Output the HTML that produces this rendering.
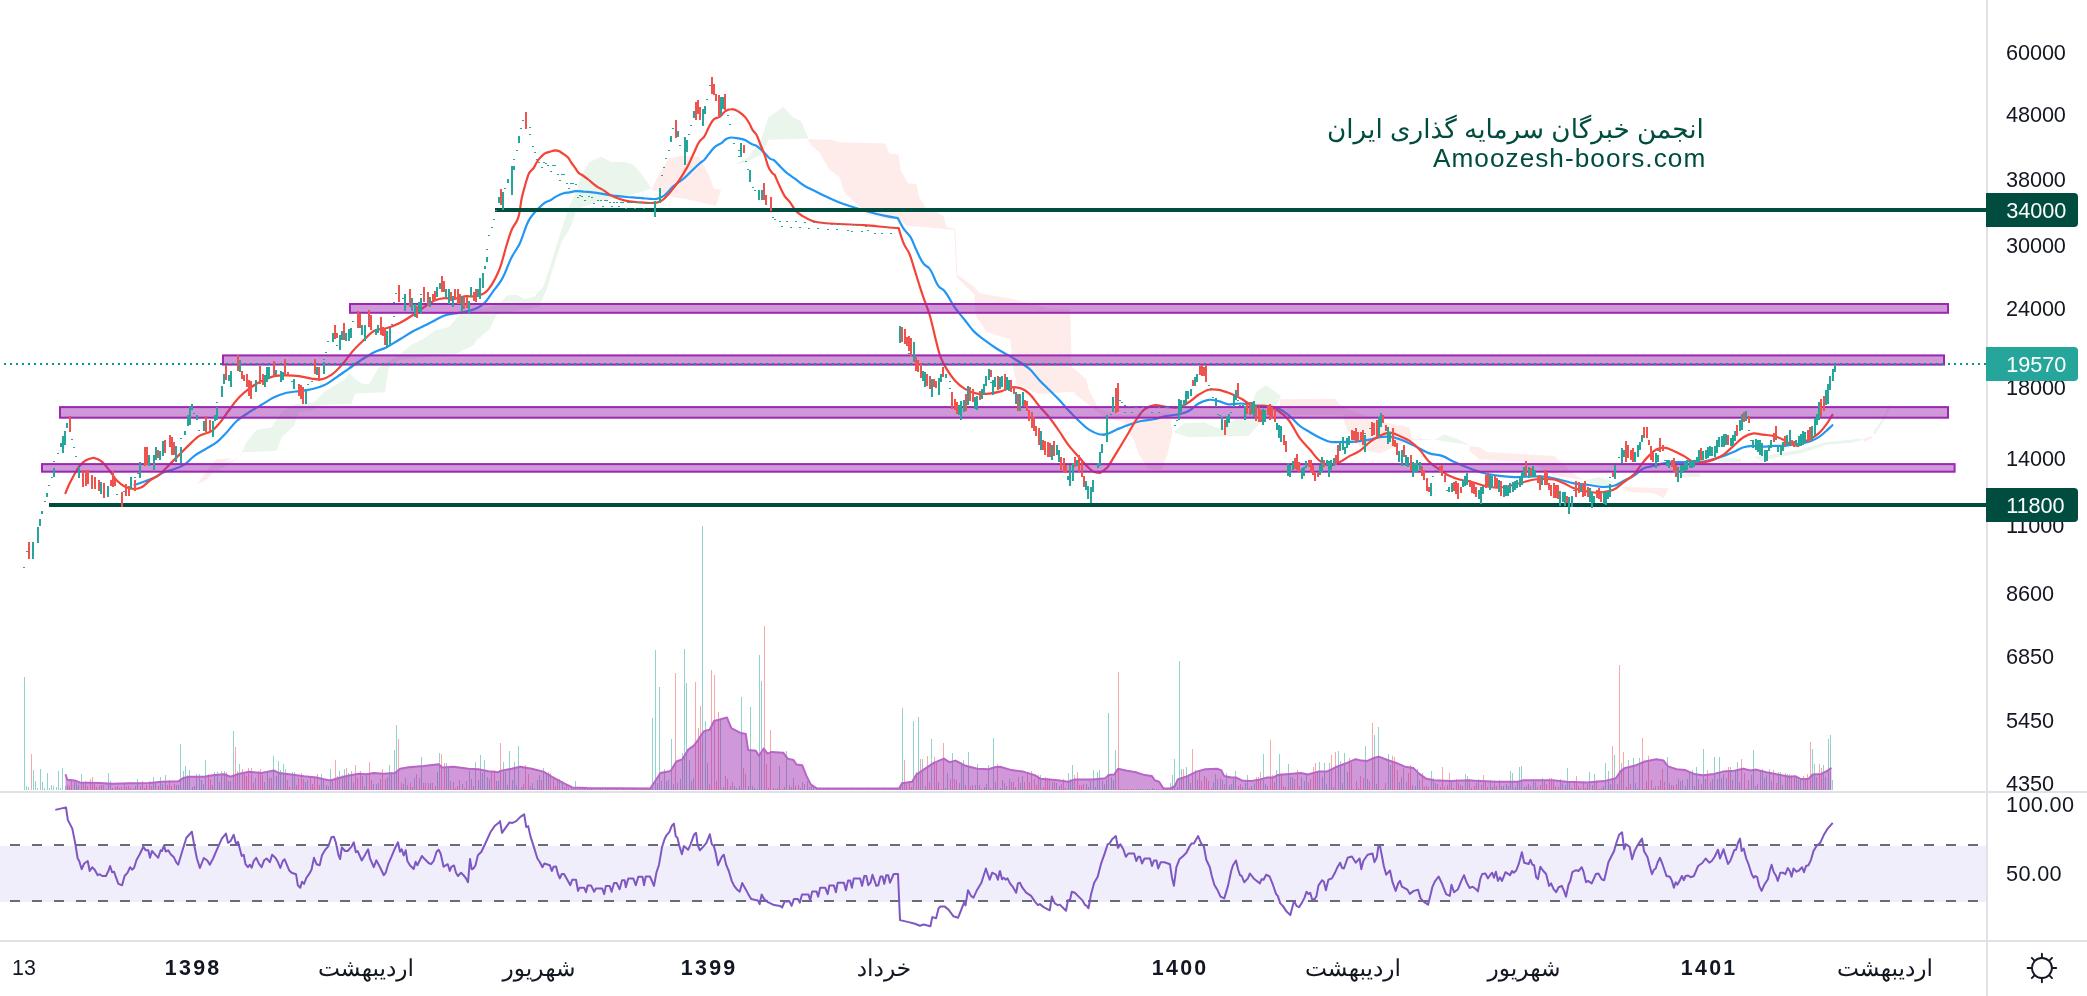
<!DOCTYPE html>
<html><head><meta charset="utf-8"><title>Chart</title>
<style>
html,body{margin:0;padding:0;background:#fff}
body{width:2087px;height:996px;position:relative;overflow:hidden;font-family:"Liberation Sans",sans-serif;color:#131722}
.ax,.tag,.tl,.wm{will-change:transform}
.ax{position:absolute;left:2006px;height:28px;line-height:28px;font-size:21.7px;margin-top:0.7px;white-space:nowrap;letter-spacing:-0.1px}
.tag{position:absolute;left:1986px;width:92px;height:34px;line-height:35.4px;border-radius:0 4px 4px 0;color:#fff;font-size:21.7px;box-sizing:border-box;padding-left:20.3px;letter-spacing:-0.1px}
.tl{position:absolute;top:954px;width:200px;height:28px;line-height:28px;text-align:center;font-size:21.4px;white-space:nowrap}
.tl.b{font-weight:bold;letter-spacing:2.3px;text-indent:2.3px}
.tl.fa{font-size:23.3px;top:954.1px;text-rendering:geometricPrecision}
.wm{position:absolute;right:381.5px;color:#004d40;white-space:nowrap;text-align:right}
</style></head><body>
<svg width="2087" height="996" viewBox="0 0 2087 996" style="position:absolute;left:0;top:0">
<rect width="2087" height="996" fill="#fff"/>
<g><polygon points="196.9,484.5 211.8,464.6 216.8,459.1 231.7,458.3 219.3,465.8 206.8,479.5" fill="#feecea"/><polygon points="201.8,479.5 216.8,464.6 239.2,458.3 246.7,442.1 256.7,429.7 271.6,427.2 281.6,412.2 294,404.8 314,402.3 323.9,392.3 343.9,379.8 348.9,373.6 361.3,383.6 368.8,384.8 378.8,367.4 398.7,354.9 411.2,345 436.1,332.5 448.5,330 483.4,330 473.5,345 456,353.7 398.7,359.9 388.7,367.4 385,392.3 355.1,393.5 351.4,404.3 321.5,404.8 314,409.7 299,412.2 294,425.9 281.6,437.2 276.6,450.9 243,452.1 239.2,458.3" fill="#eaf5eb"/><polygon points="424.6,337.9 434.6,330.5 449.5,326.7 459.5,314.3 499.4,304.3 506.8,295.6 516.8,294.8 524.3,299.3 534.2,296.8 543,286.9 549.2,269.4 556.7,244.5 561.6,229.5 569.1,207.1 576.6,189.7 581.6,174.7 589.1,162.3 601.5,156.8 611.5,162.3 623.9,161.8 633.9,164.8 643.9,177.2 651.4,188.4 643.9,190.9 623.9,197.2 599,200.9 576.6,209.6 571.6,224.6 567.9,232 561.6,242 554.2,264.4 546.7,289.4 539.2,306.8 496.9,314.3 489.4,329.2 479.4,337.9" fill="#eaf5eb"/><polygon points="651.4,189.7 658.8,174.7 668.8,158.5 681.3,156 698.7,156.8 708.7,174.7 713.7,188.4 721.1,189.7 716.1,205.9 688.7,199.6 673.8,197.2 653.8,190.2" fill="#feecea"/><polygon points="733.6,164.8 748.5,157.3 761,139.8 768.5,117.4 783.4,106.9 793.4,117.4 800.9,121.1 808.3,138.6 768.5,139.8 761,154.8 746.1,162.3" fill="#eaf5eb"/><polygon points="807.5,139.2 831.9,139.7 839.4,142.2 885.5,143.5 889.2,153.4 898.7,154.7 900.4,169.6 907.9,183.3 916.6,184.6 919.1,197.1 925.3,207 936.5,212 944,217 946.5,227 955.2,229 955.2,229.9 929.1,227.5 906.6,225.7 899.2,219.5 889.2,219.5 866.8,214.5 859.3,207 844.3,192.1 839.4,177.1 829.4,169.6 819.4,152.2 811.9,146" fill="#feecea"/><polygon points="955.2,228.5 957.4,274.6 974.4,287.1 979.4,293.3 1009.3,298.3 1047.9,308.3 1070.3,309.5 1071.6,366.8 1086.5,379.3 1089,391.7 1096.5,405.5 1101.5,411.7 1074,391.7 1054.1,393 1039.2,394.2 1016.7,384.3 1013,366.8 1010.5,339.4 986.8,331.9 975.6,315.7 974.4,294.6 956.4,277.1 954.4,231" fill="#feecea"/><polygon points="1089,389.8 1099,409.8 1123.9,414.8 1168.7,412.3 1172.5,432.2 1167.5,454.6 1161.3,469.6 1148.8,469.6 1138.8,454.6 1133.8,439.7 1123.9,422.2 1103.9,417.2 1089,404.8 1074,393.6" fill="#feecea"/><polygon points="1173.7,432.2 1183.7,423.5 1203.6,422.2 1218.6,428.5 1248.5,412.3 1256,392.3 1265.9,384.9 1280.9,396.1 1278.4,402.3 1260.9,422.2 1248.5,435.9 1188.7,437.2" fill="#eaf5eb"/><polygon points="1280,399.3 1334.8,398.8 1342.3,407.3 1384.7,422.2 1409.6,427.2 1412.1,438.4 1434.5,439.7 1419.5,440.2 1409.6,440.2 1379.7,453.4 1362.2,449.6 1347.3,429.7 1342.3,414.8 1280,414.8" fill="#feecea"/><polygon points="1434.5,439.7 1444.5,434.2 1459.4,439.7 1469.4,445.2 1454.4,442.7" fill="#eaf5eb"/><polygon points="1469.4,445.9 1479.4,447.2 1486.8,452.1 1554.1,455.9 1574,474.6 1584,480 1554.1,475.8 1529.2,462.1 1479.4,459.6 1469.4,450.9" fill="#feecea"/><polygon points="1584,480.8 1599,477.1 1613.9,482 1603.9,487" fill="#eaf5eb"/><polygon points="1621.4,487 1668.7,488.3 1663.8,498.2 1653.8,493.3 1628.9,492" fill="#feecea"/><polygon points="1678.7,474.6 1698.6,472.1 1701.1,476.6 1681.2,477.6" fill="#eaf5eb"/><polygon points="1716.1,457.1 1741,459.1 1741,462.6 1718.6,462.1" fill="#eaf5eb"/><polygon points="1753.5,457.1 1778.4,453.4 1800.1,449.6 1800.1,453.4 1778.4,457.1 1760.9,460.9" fill="#eaf5eb"/><polygon points="1800,449.6 1826.2,442.2 1851.1,439.7 1861,438.4 1861,440.2 1851.1,442.7 1826.2,444.7 1800,453.4" fill="#eaf5eb"/><polygon points="1862.3,439.2 1871,435.9 1872.3,437.7 1864.8,441.7" fill="#feecea"/><polygon points="1873,432.7 1883.5,417.2 1889.7,404.3 1890.9,405.3 1884.7,419.2 1874.7,434.7" fill="#eaf5eb"/></g>
<g fill="none" stroke-width="1" shape-rendering="crispEdges">
<path d="M24.3 790V677.1M26.6 790V785.5M28.8 790V787.3M33.4 790V770.1M35.6 790V781.3M37.9 790V788M40.2 790V769.3M42.5 790V781.8M44.7 790V788M47 790V773.1M49.3 790V788M51.5 790V785M53.8 790V785.5M56.1 790V786.8M58.3 790V771.3M60.6 790V788M62.9 790V768.1M65.1 790V786.3M67.4 790V784.6M74.2 790V782.1M76.5 790V783.1M78.8 790V784.8M81 790V774.3M101.4 790V784.9M108.3 790V773.1M110.5 790V780.5M130.9 790V787.9M137.8 790V779.3M140 790V786M151.4 790V785.9M153.6 790V777.3M155.9 790V782.5M160.4 790V777.3M162.7 790V784M165 790V774.8M176.3 790V785.2M178.6 790V784.6M180.9 790V743.9M183.1 790V771.3M185.4 790V766.3M187.7 790V774.6M189.9 790V770.1M192.2 790V786.5M194.5 790V786.3M196.7 790V774.3M199 790V774.2M201.3 790V780.1M203.6 790V784.3M205.8 790V760.1M212.6 790V785.2M214.9 790V772.3M217.2 790V771.8M219.4 790V781.6M221.7 790V771.4M224 790V771.3M228.5 790V781.2M230.8 790V780.9M233 790V731.2M239.9 790V764.3M255.7 790V778.2M264.8 790V782.2M267.1 790V772.7M269.4 790V777.9M273.9 790V756.4M276.2 790V775.6M278.4 790V761.3M280.7 790V769.9M283 790V764.3M285.2 790V768.8M292 790V771.6M294.3 790V772M305.7 790V782.1M307.9 790V779.5M321.5 790V774.3M323.8 790V779.4M326.1 790V785M328.3 790V786.4M330.6 790V769.3M332.9 790V781.2M339.7 790V770.6M342 790V774.7M344.2 790V769.3M348.8 790V772.7M351 790V770.6M353.3 790V783.2M362.4 790V775.5M364.7 790V785.6M366.9 790V774.7M373.7 790V784.3M376 790V783.9M378.3 790V782.5M387.3 790V776.9M389.6 790V765.1M391.9 790V772.1M394.1 790V750.1M396.4 790V725.2M403.2 790V783.6M405.5 790V777.7M412.3 790V786.7M414.6 790V777.6M419.1 790V778.3M421.4 790V756.9M430.5 790V782.5M437.3 790V771.5M439.5 790V753.1M446.3 790V762.8M448.6 790V766.5M453.1 790V781.6M462.2 790V784.4M469 790V771.4M471.3 790V778.7M475.8 790V762.3M478.1 790V779.5M480.4 790V755.1M482.6 790V773M484.9 790V760.1M487.2 790V777.1M489.4 790V779.2M496.3 790V780.5M498.5 790V781.3M503.1 790V761.5M505.3 790V771.6M507.6 790V784.6M509.9 790V750.5M512.1 790V779.6M514.4 790V762.3M516.7 790V785.4M518.9 790V746.4M521.2 790V787.1M530.3 790V785.9M532.6 790V782.8M534.8 790V788.4M537.1 790V779.5M539.4 790V775.1M543.9 790V768.3M546.2 790V773.1M548.4 790V771.6M557.5 790V780.3M562.1 790V780.9M564.3 790V786.5M568.9 790V788M573.4 790V788.5M575.7 790V781.1M577.9 790V788.7M582.5 790V789M584.7 790V788.5M587 790V788.6M596.1 790V788.6M598.4 790V789.1M602.9 790V788.7M605.2 790V789.2M607.4 790V788.8M616.5 790V788.6M618.8 790V789M621 790V788.5M623.3 790V789M630.1 790V789M632.4 790V789.1M636.9 790V788.4M646 790V788.9M652.8 790V718.1M655.1 790V650.1M657.4 790V783.4M659.6 790V687.1M661.9 790V780.7M664.2 790V768.8M666.4 790V780.5M668.7 790V780.1M671 790V739.2M673.2 790V783.8M677.8 790V783.3M680 790V778.8M682.3 790V753.1M684.6 790V649.3M686.8 790V683.4M689.1 790V760.3M691.4 790V781.4M693.7 790V777.6M702.7 790V525.8M705 790V721M707.3 790V762.6M720.9 790V717.5M723.2 790V787.4M730 790V785.5M734.5 790V786.2M736.8 790V787.7M739 790V785.7M741.3 790V697.3M748.1 790V786M750.4 790V707.4M752.6 790V786.1M754.9 790V788.1M757.2 790V788.5M759.5 790V655M761.7 790V681.1M775.3 790V788.5M777.6 790V788.3M779.9 790V765.5M784.4 790V787M786.7 790V750.6M791.2 790V787.2M793.5 790V778.2M800.3 790V788.1M802.6 790V781.6M807.1 790V781.4M809.4 790V786.6M811.6 790V784.5M813.9 790V785.9M816.2 790V788.7M820.7 790V788.6M823 790V789M825.3 790V789M827.5 790V789M834.3 790V788.7M836.6 790V788.8M838.9 790V788.4M841.1 790V788.5M843.4 790V789M845.7 790V788.9M852.5 790V788.6M863.8 790V788.8M870.6 790V788.4M872.9 790V788.8M893.3 790V789.2M895.6 790V788.8M897.9 790V789M900.1 790V785.8M902.4 790V708.3M913.7 790V721.3M918.3 790V717.2M922.8 790V759.2M925.1 790V785.7M931.9 790V739.2M938.7 790V782.4M941 790V788.5M945.5 790V788.3M947.8 790V773.1M952.3 790V753.1M959.1 790V782.5M961.4 790V765M963.7 790V759.8M968.2 790V752.2M975 790V784.7M977.3 790V764.4M981.8 790V788.5M984.1 790V787.3M986.4 790V784.4M988.6 790V765.1M993.2 790V738.3M995.4 790V782.4M1000 790V787.8M1002.2 790V779.7M1006.8 790V785.5M1009 790V778.8M1015.9 790V786.7M1020.4 790V783.3M1022.7 790V775.9M1040.8 790V774.5M1052.2 790V782.2M1056.7 790V783.4M1059 790V785.8M1068 790V773.3M1070.3 790V779.2M1072.6 790V765.2M1086.2 790V783.7M1088.5 790V787M1090.7 790V780.9M1093 790V770.4M1095.3 790V787M1097.5 790V772.2M1099.8 790V770.1M1102.1 790V781.3M1104.3 790V784.3M1106.6 790V780.1M1108.9 790V713.2M1111.2 790V776.6M1113.4 790V780.3M1115.7 790V750.2M1129.3 790V788.9M1136.1 790V788.8M1138.4 790V789.2M1142.9 790V788.6M1147.5 790V788.7M1149.7 790V789.2M1152 790V788.4M1156.5 790V789M1158.8 790V788.7M1170.1 790V783.2M1172.4 790V775.1M1174.7 790V759.4M1177 790V787.1M1179.2 790V661.1M1181.5 790V769.3M1186 790V767.3M1188.3 790V774.3M1190.6 790V783.4M1195.1 790V770.4M1197.4 790V779.6M1213.3 790V781.5M1215.5 790V773.8M1217.8 790V779.1M1220.1 790V777.5M1222.3 790V780.2M1226.9 790V773.3M1229.1 790V784.8M1231.4 790V784.3M1233.7 790V778.6M1235.9 790V771.3M1242.8 790V787.3M1245 790V783.2M1247.3 790V775.1M1251.8 790V785.9M1254.1 790V783.4M1263.2 790V754.2M1265.4 790V783.5M1276.8 790V770.4M1279.1 790V754.2M1288.1 790V764.4M1290.4 790V776.6M1292.7 790V776.6M1301.7 790V776.5M1304 790V780.8M1306.3 790V774.4M1319.9 790V762.3M1322.2 790V776.9M1324.4 790V763.2M1326.7 790V783.8M1329 790V763.2M1333.5 790V786.8M1338.1 790V751.3M1340.3 790V761.2M1342.6 790V783.4M1344.9 790V753.4M1347.1 790V772.2M1365.3 790V746.4M1367.5 790V778.8M1374.4 790V735.4M1378.9 790V727.3M1381.2 790V788.5M1388 790V754.2M1390.2 790V765.2M1399.3 790V782.3M1401.6 790V776.7M1406.1 790V781.8M1412.9 790V784.7M1415.2 790V785.5M1417.5 790V768.5M1419.7 790V779.7M1431.1 790V771.3M1433.3 790V778.2M1435.6 790V782.9M1451.5 790V781.3M1462.8 790V785.7M1465.1 790V774.2M1467.4 790V776.2M1478.7 790V779.4M1481 790V785.2M1490.1 790V779.8M1492.3 790V787.1M1499.2 790V780.1M1503.7 790V786.1M1506 790V784.3M1508.2 790V785.5M1510.5 790V771.3M1512.8 790V773.3M1515 790V787M1517.3 790V781.8M1519.6 790V767.3M1521.8 790V766.4M1524.1 790V787M1528.6 790V784.1M1533.2 790V780.6M1535.5 790V781.8M1542.3 790V778.3M1560.4 790V779.3M1562.7 790V783.1M1565 790V785M1567.2 790V768.1M1569.5 790V783.3M1571.8 790V787.7M1580.8 790V788M1589.9 790V772.2M1592.2 790V784.6M1594.4 790V774.2M1603.5 790V786.2M1605.8 790V763.2M1608.1 790V771.3M1610.3 790V784M1614.9 790V755.4M1617.1 790V783.6M1621.7 790V763.2M1628.5 790V760.3M1633 790V758.3M1635.3 790V783.1M1637.6 790V787.8M1639.8 790V758.4M1655.7 790V786.2M1658 790V785.5M1667.1 790V757.4M1669.3 790V782.5M1678.4 790V779.3M1680.7 790V781M1682.9 790V780.2M1685.2 790V785.7M1687.5 790V779.3M1689.7 790V770.8M1692 790V769.7M1694.3 790V785.8M1696.6 790V767.3M1698.8 790V778.5M1703.4 790V749.3M1705.6 790V779.2M1710.2 790V782.2M1712.4 790V779.4M1714.7 790V757.4M1717 790V779.1M1719.2 790V757.4M1721.5 790V778.1M1723.8 790V773.7M1726 790V778.3M1730.6 790V767.3M1732.9 790V779.5M1735.1 790V771.4M1737.4 790V762.3M1739.7 790V782.2M1746.5 790V788.5M1751 790V775.4M1753.3 790V750.2M1755.5 790V786.3M1757.8 790V784.2M1760.1 790V769.9M1762.4 790V768.8M1764.6 790V777.7M1766.9 790V774.9M1769.2 790V769.3M1771.4 790V781.1M1778.2 790V771.5M1780.5 790V772M1782.8 790V784.7M1787.3 790V773.6M1789.6 790V774.1M1796.4 790V776M1798.7 790V780M1800.9 790V780.2M1805.5 790V780.4M1812.3 790V748.5M1814.5 790V764.4M1816.8 790V776.6M1823.6 790V765.2M1825.9 790V776.6M1828.2 790V739.2M1830.4 790V735.4M1832.7 790V780.3" stroke="#92d2cc"/>
<path d="M31.1 790V754.4M69.7 790V786M71.9 790V780.6M83.3 790V781.9M85.6 790V781.2M87.8 790V786.4M90.1 790V779.3M92.4 790V777.3M94.6 790V783.7M96.9 790V786.7M99.2 790V786.4M103.7 790V785.4M106 790V788.5M112.8 790V788.3M115.1 790V786.6M117.3 790V785.8M119.6 790V787.9M121.9 790V787.2M124.1 790V784M126.4 790V786.9M128.7 790V785.5M133.2 790V788.5M135.5 790V785.5M142.3 790V780.5M144.6 790V787.5M146.8 790V784.5M149.1 790V780.5M158.2 790V785.9M167.2 790V785.4M169.5 790V780.1M171.8 790V785.8M174.1 790V783.7M208.1 790V774.3M210.4 790V778.5M226.2 790V772.3M235.3 790V746.9M237.6 790V771.2M242.1 790V769.3M244.4 790V773.7M246.7 790V776.3M248.9 790V768.2M251.2 790V768.4M253.5 790V783.3M258 790V770.8M260.3 790V769.3M262.5 790V774.5M271.6 790V777.7M287.5 790V779.8M289.8 790V786.6M296.6 790V784.5M298.8 790V777.6M301.1 790V773.1M303.4 790V779.4M310.2 790V777.2M312.5 790V783.7M314.7 790V777.6M317 790V774.3M319.3 790V785.1M335.2 790V760.1M337.4 790V775.5M346.5 790V768.1M355.6 790V765.1M357.8 790V778.4M360.1 790V770.7M369.2 790V762.3M371.5 790V779.7M380.5 790V778.5M382.8 790V769.3M385.1 790V779M398.7 790V738.9M401 790V783.1M407.8 790V785.3M410 790V783.4M416.8 790V773.9M423.6 790V783M425.9 790V782.8M428.2 790V783.2M432.7 790V783.4M435 790V785.8M441.8 790V754.4M444.1 790V763M450.9 790V780.6M455.4 790V788.1M457.7 790V786.1M459.9 790V780.1M464.5 790V787.9M466.8 790V780.6M473.6 790V786.3M491.7 790V771.4M494 790V769.6M500.8 790V743.3M523.5 790V783.5M525.7 790V765.2M528 790V774.2M541.6 790V780.1M550.7 790V773.2M553 790V776.6M555.2 790V786.2M559.8 790V779.3M566.6 790V785M571.1 790V786.3M580.2 790V788.6M589.3 790V789M591.5 790V788.8M593.8 790V789.1M600.6 790V788.9M609.7 790V788.6M612 790V789M614.2 790V788.8M625.6 790V788.5M627.9 790V788.4M634.7 790V789.1M639.2 790V788.7M641.5 790V788.5M643.7 790V789M648.3 790V789.2M650.5 790V788.7M675.5 790V673.3M695.9 790V681.9M698.2 790V728.2M700.5 790V705.9M709.5 790V784.4M711.8 790V670.4M714.1 790V675.3M716.3 790V781.2M718.6 790V712.3M725.4 790V775.7M727.7 790V778.7M732.2 790V781.7M743.6 790V767.9M745.8 790V774.4M764 790V626.1M766.3 790V763.9M768.5 790V787.5M770.8 790V730.2M773.1 790V787.5M782.1 790V788.5M789 790V785.2M795.8 790V785.5M798 790V784.7M804.8 790V784.2M818.5 790V789.2M829.8 790V789M832.1 790V789.1M847.9 790V789.1M850.2 790V788.5M854.8 790V788.5M857 790V789M859.3 790V789.2M861.6 790V788.5M866.1 790V789.2M868.4 790V789.1M875.2 790V788.9M877.4 790V788.5M879.7 790V789.1M882 790V789M884.3 790V789M886.5 790V788.6M888.8 790V789.2M891.1 790V789M904.7 790V760M906.9 790V784.1M909.2 790V782.9M911.5 790V786.8M916 790V772.2M920.6 790V759.2M927.4 790V756.3M929.6 790V782.1M934.2 790V757.3M936.4 790V763.1M943.2 790V743.3M950.1 790V778.6M954.6 790V779.4M956.9 790V780.4M965.9 790V785.4M970.5 790V785.7M972.7 790V785.2M979.5 790V784.7M990.9 790V787.9M997.7 790V764.4M1004.5 790V783.4M1011.3 790V782M1013.6 790V781.5M1018.1 790V776.6M1024.9 790V782.4M1027.2 790V774.3M1029.5 790V781.8M1031.7 790V771M1034 790V778.8M1036.3 790V784.8M1038.5 790V775.1M1043.1 790V787.4M1045.4 790V777.1M1047.6 790V778.2M1049.9 790V777.5M1054.4 790V781.9M1061.2 790V784.1M1063.5 790V779.3M1065.8 790V788.1M1074.8 790V774.5M1077.1 790V772.2M1079.4 790V785.4M1081.7 790V785.2M1083.9 790V784.2M1118 790V672.1M1120.2 790V788.7M1122.5 790V788.8M1124.8 790V788.6M1127 790V788.5M1131.6 790V789.1M1133.8 790V788.9M1140.6 790V789.1M1145.2 790V789.2M1154.3 790V789M1161.1 790V789.1M1163.3 790V788.7M1165.6 790V789.1M1167.9 790V788.5M1183.8 790V769.3M1192.8 790V748.5M1199.6 790V770.4M1201.9 790V780.7M1204.2 790V775.6M1206.4 790V778.1M1208.7 790V781.4M1211 790V788.3M1224.6 790V784.3M1238.2 790V785.5M1240.5 790V783.9M1249.6 790V787.7M1256.4 790V776.8M1258.6 790V776.8M1260.9 790V772.2M1267.7 790V785.9M1270 790V740.4M1272.2 790V774.8M1274.5 790V781.5M1281.3 790V773.3M1283.6 790V786.2M1285.9 790V786.7M1294.9 790V779M1297.2 790V770.4M1299.5 790V785.7M1308.6 790V781.5M1310.8 790V779M1313.1 790V767.3M1315.4 790V763.2M1317.6 790V771.6M1331.2 790V755.4M1335.8 790V752.2M1349.4 790V758.3M1351.7 790V763.2M1353.9 790V788.5M1356.2 790V781.3M1358.5 790V788.3M1360.7 790V776.4M1363 790V778.1M1369.8 790V780.8M1372.1 790V723.3M1376.6 790V783.8M1383.4 790V788.5M1385.7 790V782.7M1392.5 790V756M1394.8 790V756.9M1397 790V770.1M1403.9 790V767.7M1408.4 790V773.3M1410.7 790V764.5M1422 790V772.9M1424.3 790V786.6M1426.5 790V786.3M1428.8 790V787.3M1437.9 790V783.9M1440.2 790V786.5M1442.4 790V767.3M1444.7 790V787.4M1447 790V785.3M1449.2 790V773.3M1453.8 790V787.8M1456 790V779.1M1458.3 790V782.5M1460.6 790V784.6M1469.7 790V778.5M1471.9 790V787.6M1474.2 790V786.1M1476.5 790V783.2M1483.3 790V775.3M1485.5 790V779.6M1487.8 790V786.7M1494.6 790V781M1496.9 790V786.3M1501.4 790V786.2M1526.4 790V785.9M1530.9 790V785.9M1537.7 790V787.2M1540 790V785.4M1544.5 790V781.4M1546.8 790V784.1M1549.1 790V778.3M1551.3 790V778.3M1553.6 790V781.8M1555.9 790V786.1M1558.1 790V786.8M1574 790V781.8M1576.3 790V776.2M1578.6 790V786.4M1583.1 790V780.9M1585.4 790V787.9M1587.6 790V784.3M1596.7 790V780.1M1599 790V788.5M1601.3 790V787.6M1612.6 790V746.4M1619.4 790V665.2M1623.9 790V752.2M1626.2 790V787.4M1630.8 790V784M1642.1 790V738.3M1644.4 790V788.5M1646.6 790V781.2M1648.9 790V755.5M1651.2 790V780M1653.4 790V788M1660.2 790V780.1M1662.5 790V769M1664.8 790V781.8M1671.6 790V784.5M1673.9 790V785.3M1676.1 790V784.1M1701.1 790V783.9M1707.9 790V770.4M1728.3 790V767.4M1741.9 790V759.4M1744.2 790V772.8M1748.7 790V779.5M1773.7 790V770.4M1776 790V783.3M1785 790V773.1M1791.9 790V775.3M1794.1 790V777.7M1803.2 790V776.2M1807.7 790V774.2M1810 790V742.4M1819.1 790V764.4M1821.3 790V768.1" stroke="#f7a9a7"/>
</g>
<path d="M65.5 790 L65.5,774.3 67.3,779.8 74.8,780.5 79.7,782.5 99.7,783 112.1,783.8 129.6,783.3 149.5,783 162,781.8 178.2,781.3 183.2,778 189.4,776.8 204.3,776.8 214.3,775.1 224.3,774.3 230.5,776.8 239.2,773.8 249.2,771.8 261.6,773.1 274.1,770.6 279.1,773.1 289.1,774.3 304,776.3 316.5,777.5 323.9,779.3 330.2,780.5 338.9,778 348.9,775.5 358.8,773.8 366.3,774.3 373.8,773.1 383.8,773.8 395,773.1 400,768.8 408.7,767.3 423.6,766.1 438.6,764.3 442.3,767.6 453.5,766.8 468.5,768.8 478.4,769.3 488.4,771.3 498.4,772.3 500,771 511.6,768.7 520.2,766.7 531.8,768.7 543.4,771.6 552.1,776.8 563.6,783.2 572.3,787.5 586.8,788.1 650.4,788.4 654.7,781.7 660.5,773 670.6,771 676.4,761.5 682.2,759.4 688,749.9 693.8,745.6 698.1,739.8 703.9,731.1 709.7,729.7 714,721 719.8,719.5 727,717.5 731.3,728.2 740,732.6 745.8,734 748.1,749.9 755.9,750.8 758.8,755.7 763.7,748.5 767.5,753.7 771.8,751.9 783.4,752.8 787.7,758.6 793.5,760 796.4,764.4 802.2,765.2 806.5,775.9 810.9,784.6 816.7,788.4 899.1,788.4 902,783.2 912.1,781.7 916.4,774.5 925.1,768.7 933.8,762.9 943.9,758.6 949.7,762.3 955.5,760.6 965.6,765.8 977.2,768.7 988.7,769.3 994.5,767.3 1000,766.7 1011.6,770.1 1023.1,771.6 1034.7,775.1 1040.5,778.8 1057.8,780.3 1068,781.7 1075.2,779.4 1092.5,779.4 1105.6,778.2 1108.4,775.1 1114.2,774.5 1118,768.7 1127.2,770.7 1135.9,772.2 1144.6,775.1 1151.8,775.9 1154.7,780.3 1159.1,781.7 1163.4,788.4 1170.6,788.4 1175,786 1177.8,779.4 1188,775.9 1196.6,771.6 1205.3,769.3 1216.9,768.7 1221.2,770.1 1224.1,775.9 1231.3,777.4 1235.7,777.4 1242.9,780.8 1251.6,781.1 1260.3,779.4 1267.5,777.4 1273.3,777.4 1277.6,775.1 1289.2,773.9 1300.8,773 1308,774.5 1318.1,771.6 1326.8,771.6 1335.5,767.3 1347,762.9 1355.7,759.2 1361.5,760.6 1367.3,760.9 1374.5,757.7 1378.8,756.6 1387.5,760 1396.2,762.9 1404.9,766.7 1413.5,768.1 1419.3,773.9 1426.5,778.8 1433.8,780.3 1451.1,781.1 1468.5,780.3 1477.2,781.1 1480,781.1 1497.4,781.7 1517.6,781.7 1523.4,780.3 1552.3,780.3 1566.8,781.7 1587,782.6 1604.3,781.1 1615.9,778.2 1620.3,771.6 1624.6,768.1 1636.2,765.2 1644.8,761.5 1656.4,759.2 1663.6,760.6 1668,766.4 1676.6,769.3 1685.3,770.1 1694,773.9 1702.7,775.3 1714.2,773.9 1722.9,771.6 1734.5,770.7 1743.2,768.7 1750.4,770.4 1756.2,769.6 1766.3,772.2 1777.9,774.5 1789.4,776.8 1795.2,776.2 1801,779.1 1808.2,779.1 1812.6,774.5 1821.2,773.9 1827,771 1831.4,767.8 L1831.4 790Z" fill="rgba(156,39,176,0.48)"/>
<polyline points="65.5,774.3 67.3,779.8 74.8,780.5 79.7,782.5 99.7,783 112.1,783.8 129.6,783.3 149.5,783 162,781.8 178.2,781.3 183.2,778 189.4,776.8 204.3,776.8 214.3,775.1 224.3,774.3 230.5,776.8 239.2,773.8 249.2,771.8 261.6,773.1 274.1,770.6 279.1,773.1 289.1,774.3 304,776.3 316.5,777.5 323.9,779.3 330.2,780.5 338.9,778 348.9,775.5 358.8,773.8 366.3,774.3 373.8,773.1 383.8,773.8 395,773.1 400,768.8 408.7,767.3 423.6,766.1 438.6,764.3 442.3,767.6 453.5,766.8 468.5,768.8 478.4,769.3 488.4,771.3 498.4,772.3 500,771 511.6,768.7 520.2,766.7 531.8,768.7 543.4,771.6 552.1,776.8 563.6,783.2 572.3,787.5 586.8,788.1 650.4,788.4 654.7,781.7 660.5,773 670.6,771 676.4,761.5 682.2,759.4 688,749.9 693.8,745.6 698.1,739.8 703.9,731.1 709.7,729.7 714,721 719.8,719.5 727,717.5 731.3,728.2 740,732.6 745.8,734 748.1,749.9 755.9,750.8 758.8,755.7 763.7,748.5 767.5,753.7 771.8,751.9 783.4,752.8 787.7,758.6 793.5,760 796.4,764.4 802.2,765.2 806.5,775.9 810.9,784.6 816.7,788.4 899.1,788.4 902,783.2 912.1,781.7 916.4,774.5 925.1,768.7 933.8,762.9 943.9,758.6 949.7,762.3 955.5,760.6 965.6,765.8 977.2,768.7 988.7,769.3 994.5,767.3 1000,766.7 1011.6,770.1 1023.1,771.6 1034.7,775.1 1040.5,778.8 1057.8,780.3 1068,781.7 1075.2,779.4 1092.5,779.4 1105.6,778.2 1108.4,775.1 1114.2,774.5 1118,768.7 1127.2,770.7 1135.9,772.2 1144.6,775.1 1151.8,775.9 1154.7,780.3 1159.1,781.7 1163.4,788.4 1170.6,788.4 1175,786 1177.8,779.4 1188,775.9 1196.6,771.6 1205.3,769.3 1216.9,768.7 1221.2,770.1 1224.1,775.9 1231.3,777.4 1235.7,777.4 1242.9,780.8 1251.6,781.1 1260.3,779.4 1267.5,777.4 1273.3,777.4 1277.6,775.1 1289.2,773.9 1300.8,773 1308,774.5 1318.1,771.6 1326.8,771.6 1335.5,767.3 1347,762.9 1355.7,759.2 1361.5,760.6 1367.3,760.9 1374.5,757.7 1378.8,756.6 1387.5,760 1396.2,762.9 1404.9,766.7 1413.5,768.1 1419.3,773.9 1426.5,778.8 1433.8,780.3 1451.1,781.1 1468.5,780.3 1477.2,781.1 1480,781.1 1497.4,781.7 1517.6,781.7 1523.4,780.3 1552.3,780.3 1566.8,781.7 1587,782.6 1604.3,781.1 1615.9,778.2 1620.3,771.6 1624.6,768.1 1636.2,765.2 1644.8,761.5 1656.4,759.2 1663.6,760.6 1668,766.4 1676.6,769.3 1685.3,770.1 1694,773.9 1702.7,775.3 1714.2,773.9 1722.9,771.6 1734.5,770.7 1743.2,768.7 1750.4,770.4 1756.2,769.6 1766.3,772.2 1777.9,774.5 1789.4,776.8 1795.2,776.2 1801,779.1 1808.2,779.1 1812.6,774.5 1821.2,773.9 1827,771 1831.4,767.8" fill="none" stroke="#b865c7" stroke-width="2" stroke-linejoin="round"/>
<path d="M134.6 485C137.9 483.8 141.2 482.7 144.5 481.5C147.9 480.3 151.3 479.1 154.5 477.5C157.9 475.9 161 473.5 164.5 472C167.7 470.7 171.2 470.3 174.4 469C177.8 467.8 181.3 466.5 184.4 464.6C188.1 462.2 190.8 458.4 194.4 455.8C198.3 453 202.7 450.9 206.8 448.4C210.2 446.3 213.7 444.6 216.8 442.1C220.5 439.2 223.5 435.6 226.8 432.2C230.2 428.5 233 424.3 236.7 421C240.5 417.6 244.9 415 249.2 412.2C253.3 409.6 257.5 407.2 261.6 404.8C265.8 402.3 269.7 399.4 274.1 397.3C278.1 395.4 282.3 393.9 286.6 392.8C290.6 391.8 294.9 391.6 299 391.1C303.2 390.5 307.4 390.2 311.5 389.3C315.7 388.3 320 387.2 323.9 385.3C328.4 383.2 332.3 380.1 336.4 377.3C340.6 374.5 344.7 371.5 348.9 368.6C353 365.7 357.1 362.7 361.3 359.9C365.4 357.3 369.4 354.6 373.8 352.4C377.8 350.4 382.2 349.4 386.2 347.4C390.6 345.3 394.5 342.4 398.7 340C399.9 339.3 401 338.6 402.2 337.9C405.5 335.9 408.7 333.6 412.1 331.7C416.2 329.4 420.4 327.6 424.6 325.5C427.9 323.8 431.2 322.2 434.6 320.5C437.9 318.8 441 316.7 444.5 315.5C447.7 314.4 451.2 314.1 454.5 313.5C457.8 312.9 461.2 312.5 464.5 311.8C467.8 311.1 471.3 310.6 474.4 309.3C478 307.8 481.5 305.7 484.4 303.1C487.5 300.2 489.4 296.4 491.9 293.1C495.2 288.5 499 284.3 501.8 279.4C505.9 272.3 508 264.2 511.8 257C514 252.7 517.1 248.8 519.3 244.5C523.3 236.5 524.7 227.3 529.3 219.6C531.8 215.3 535.3 211.7 538.8 208.1C540.9 206 543 203.7 545.6 202.2C546.9 201.4 548.5 201.2 549.9 200.5C552 199.4 553.8 197.7 555.9 196.6C558.3 195.3 560.9 194 563.6 193.2C565.5 192.6 567.5 192.7 569.5 192.3C571.5 192 573.5 191.4 575.5 191.2C578.4 191 581.2 191.5 584 191.7C586.9 191.8 589.8 192 592.6 192.3C595.4 192.7 598.3 193.2 601.1 193.6C604 194.1 606.8 194.6 609.7 195.1C612.5 195.5 615.4 195.9 618.2 196.2C621 196.5 623.9 196.8 626.7 197C629.6 197.3 632.4 197.4 635.3 197.6C638.1 197.8 641 198.1 643.8 198.3C647 198.6 650.1 199 653.2 199C654.4 199 655.5 199.1 656.6 198.8C659.2 198.3 661.7 197.3 663.8 195.9C667.7 193.3 670.2 189 673.8 185.9C676.9 183.2 680.6 181.1 683.8 178.5C689.4 173.7 694.1 168 699.7 163.3C701.1 162.1 702.8 161.2 704.1 160C705.8 158.3 707 156.3 708.5 154.4C710.7 151.8 712.5 148.9 715.2 146.7C717.1 145.1 719.7 144.3 721.8 142.8C723.4 141.7 724.5 139.9 726.2 139C727.7 138.2 729.4 137.7 731.2 137.5C733.6 137.4 736 138 738.3 138.4C740.6 138.8 742.9 139.2 745 140.1C747.3 141.1 749.3 142.9 751.6 144C753 144.6 754.6 144.9 756 145.6C757.6 146.5 759 147.7 760.4 148.9C762 150.3 763.4 151.9 764.8 153.3C766.7 155.2 768.1 157.5 770.4 158.9C771.4 159.5 772.7 159.4 773.7 160C775.4 161.1 776.6 162.9 778.1 164.4C780.7 167 783 169.8 785.8 172.1C788.5 174.4 791.6 176.3 794.5 178.4C797.8 180.8 800.9 183.7 804.5 185.8C807.6 187.8 811.1 189.2 814.4 190.8C817.8 192.5 821 194.2 824.4 195.8C829.3 198.2 834.3 200.5 839.4 202.5C844.2 204.4 849.3 205.9 854.3 207.5C859.3 209.1 864.2 210.6 869.3 212C874.2 213.4 879.2 214.7 884.2 215.7C888.7 216.7 897.9 218.2 897.9 218.2C897.9 218.2 901.7 225.9 904.1 229.4C906 232.1 908.6 234.2 910.4 236.9C913 241.2 914.4 246.1 916.6 250.6C918.9 255.3 920.7 260.4 924.1 264.3C925.4 265.9 927.7 266.5 929.1 268.1C933.7 273.4 934.4 281.4 939 286.8C940.4 288.3 942.6 289 944 290.5C948.4 295.3 950.7 301.7 954.4 307C957.5 311.4 961.1 315.3 964.4 319.5C967.7 323.6 970.6 328.2 974.4 331.9C977.4 334.9 980.9 337.4 984.3 339.9C988.4 343 992.5 346 996.8 348.7C1002.4 352.3 1008.5 355.2 1014.2 358.7C1019.3 361.8 1024.7 364.7 1029.2 368.7C1033 371.9 1035.7 376.2 1039.2 379.9C1042.4 383.3 1045.8 386.5 1049.1 389.8C1052.4 393.2 1055.9 396.4 1059.1 399.8C1062.5 403.4 1065.6 407.4 1069.1 411C1072.3 414.4 1075.6 417.8 1079 421C1082.3 424 1085.3 427.3 1089 429.7C1092.1 431.7 1095.4 433.4 1099 434.2C1101.4 434.7 1104 434.7 1106.4 434.2C1110 433.4 1113.1 431.1 1116.4 429.7C1120.5 428 1124.6 426.2 1128.9 424.7C1133 423.3 1137.1 421.9 1141.3 421C1145.4 420.1 1149.7 420.1 1153.8 419.2C1158 418.4 1162 416.8 1166.2 416C1170.4 415.2 1174.6 415.2 1178.7 414.3C1182.1 413.5 1185.6 412.6 1188.7 411C1192.4 409.1 1195 405.5 1198.6 403.5C1201.8 401.8 1205.1 400.2 1208.6 399.8C1211.9 399.4 1215.3 400.3 1218.6 401.1C1222 401.8 1225.1 403.8 1228.5 404.3C1232.7 404.8 1236.8 403.4 1241 403.5C1245.2 403.7 1249.3 404.9 1253.5 405.3C1258.4 405.8 1263.5 405.3 1268.4 406C1271.8 406.5 1275.2 407.2 1278.4 408.5C1282 410.1 1285.3 412.3 1288.3 414.8C1292.6 418.1 1295.7 422.7 1299.9 426C1303 428.4 1306.5 430.2 1309.9 432.2C1313.2 434.1 1316.4 436.1 1319.9 437.7C1323.1 439.2 1326.3 440.9 1329.8 441.7C1333.1 442.4 1336.5 442.1 1339.8 442.2C1344.8 442.2 1349.8 442.1 1354.8 441.7C1359.8 441.3 1364.8 440.6 1369.7 439.7C1373.1 439 1376.3 437.7 1379.7 437.2C1383 436.7 1386.3 436.4 1389.6 436.7C1393.1 437 1396.4 438.1 1399.6 439.2C1403 440.3 1406.3 441.9 1409.6 443.4C1413 445 1416.2 446.7 1419.5 448.4C1422.9 450.1 1426 452.2 1429.5 453.4C1433.5 454.8 1438 454.5 1442 455.9C1446.4 457.4 1450.2 460.2 1454.4 462.1C1459.3 464.4 1464.3 466.4 1469.4 468.3C1474.3 470.2 1479.2 472.1 1484.3 473.3C1489.2 474.5 1494.3 475.2 1499.3 475.8C1504.2 476.4 1509.2 476.9 1514.2 477.1C1519.2 477.2 1524.2 476.6 1529.2 476.6C1534.2 476.5 1539.2 476.1 1544.1 476.6C1549.2 477.1 1554.1 478.4 1559.1 479.5C1564.1 480.7 1569 482.4 1574 483.3C1579 484.2 1584 484.4 1589 485C1594 485.7 1598.9 487 1603.9 487C1607.3 487 1610.7 486.7 1613.9 485.8C1617.5 484.7 1620.6 482.5 1623.9 480.8C1627.2 479.1 1630.7 477.8 1633.8 475.8C1637.4 473.6 1640.1 470.1 1643.8 468.3C1646.9 466.9 1650.5 466.7 1653.8 465.8C1657.1 465 1660.4 464 1663.8 463.3C1667 462.7 1670.4 462.3 1673.7 462.1C1677 461.9 1680.4 462.3 1683.7 462.1C1687 461.9 1690.3 460.9 1693.7 460.9C1697 460.8 1700.3 461.9 1703.6 461.6C1707 461.3 1710.3 460.1 1713.6 459.1C1716.9 458.1 1720.3 457 1723.6 455.9C1726.9 454.7 1730.3 453.6 1733.5 452.1C1736.9 450.7 1739.9 448.2 1743.5 447.2C1746.7 446.2 1750.1 446 1753.5 445.9C1756.8 445.8 1760.1 446.7 1763.4 446.7C1766.8 446.7 1770.1 446 1773.4 445.9C1776.7 445.8 1780 446.1 1783.4 445.9C1786.7 445.7 1790 445.2 1793.3 444.7C1795 444.4 1796.6 443.9 1798.3 443.7C1799.3 443.5 1800.3 443.6 1801.2 443.4C1804.6 442.9 1808 442.1 1811.2 440.9C1813.8 440 1816.4 438.7 1818.7 437.2C1821.4 435.4 1823.7 433.1 1826.2 431C1828.3 429.1 1830.3 427.1 1832.4 425.2" fill="none" stroke="#2196f3" stroke-width="2.2" stroke-linejoin="round" stroke-linecap="round"/>
<path d="M65.5 493.2C66.5 490.7 67.4 488.2 68.5 485.7C69.7 483.2 71 480.7 72.3 478.3C73.5 476 74.7 473.7 76 471.5C77.2 469.6 78.2 467.5 79.7 465.8C81.6 463.7 83.6 461.7 86 460.3C88.2 459 93.4 457.8 93.4 457.8C93.4 457.8 98.7 459.3 100.9 460.8C104.5 463.4 106.9 467.4 109.6 470.8C112.3 474 114.2 477.8 117.1 480.8C119.3 483 121.8 485.1 124.6 486.5C127.7 488 131.1 489 134.6 489C137.1 489 139.7 488.2 142 487C144.9 485.5 146.9 482.7 149.5 480.8C152.7 478.5 156.4 477 159.5 474.5C163.2 471.6 166.1 467.9 169.4 464.6C172.8 461.2 176.1 457.9 179.4 454.6C182.7 451.3 186 447.8 189.4 444.6C192.6 441.6 195.6 438.2 199.4 435.9C203.2 433.6 208.1 433.4 211.8 430.9C214.8 429 217 426.1 219.3 423.4C223 419.2 225.8 414.2 229.3 409.7C232.5 405.5 235.5 401.1 239.2 397.3C242.3 394.1 245.6 391.2 249.2 388.6C253.1 385.7 257.3 383.2 261.6 381.1C265.7 379.1 269.7 377.1 274.1 376.1C278.2 375.2 282.4 375.4 286.6 375.4C290.7 375.4 294.9 375.6 299 376.1C303.2 376.6 307.3 378 311.5 378.6C314.8 379 318.2 379.9 321.5 379.3C325 378.7 328.4 376.9 331.4 374.9C336.3 371.5 340 366.8 343.9 362.4C347.4 358.4 350.3 353.9 353.8 349.9C357 346.4 360.4 343.2 363.8 340C367.4 336.7 370.4 332.6 374.8 330.5C378.6 328.6 383.2 329.2 387.2 328C391.5 326.7 395.7 325 399.7 323C404 320.8 408.1 318.2 412.1 315.5C416.4 312.8 420.4 309.6 424.6 306.8C427.9 304.6 431 302.1 434.6 300.6C437.7 299.2 441.1 298.4 444.5 298.1C447.9 297.8 451.2 299.1 454.5 298.8C457.9 298.5 461.1 296.7 464.5 296.3C467.8 295.9 471.2 296.8 474.4 296.3C477.9 295.8 481.5 295 484.4 293.1C487.6 291 489.8 287.6 491.9 284.4C495 279.7 497.3 274.6 499.4 269.4C502.5 261.4 504.2 252.8 506.8 244.5C508.4 239.5 509.7 234.4 511.8 229.5C513.5 225.6 516.6 222.4 518 218.3C520.3 211.9 520.3 204.9 521.7 198.3C522.5 194.9 523.3 191.5 524.3 188.1C525.1 185.2 525.9 182.3 526.8 179.5C527.6 177.2 528.1 174.8 529.4 172.7C530.5 170.9 532.4 169.7 533.7 168C535.1 166 535.7 163.6 537.1 161.6C538.3 159.8 539.8 158 541.3 156.5C542.7 155.2 544 153.9 545.6 153.1C546.9 152.4 548.5 152.2 549.9 151.8C551.6 151.3 553.2 150.4 555 150.3C556.2 150.3 557.3 150.5 558.4 150.9C560 151.5 561.3 152.6 562.7 153.5C564.5 154.7 566.4 155.8 567.8 157.3C569.2 158.8 570.1 160.8 571.2 162.5C572.6 164.5 574.1 166.4 575.5 168.4C576.6 170 577.5 171.8 578.9 173.1C580.1 174.2 581.8 174.8 583.2 175.7C585 176.9 586.6 178.2 588.3 179.5C590.1 180.9 591.7 182.4 593.4 183.8C594.9 185 596.2 186.2 597.7 187.2C599.1 188.1 600.6 188.5 602 189.4C603.5 190.2 604.8 191.4 606.3 192.3C607.7 193.3 609 194.3 610.5 195.1C612.2 196 613.9 196.8 615.6 197.5C617.9 198.4 620.2 199.2 622.5 199.9C624.7 200.5 627 200.9 629.3 201.3C631.9 201.7 634.4 201.9 637 202.2C639.3 202.4 641.5 202.5 643.8 202.6C646.4 202.7 648.9 203 651.5 203C653.2 203 655 203 656.6 202.6C658.3 202.2 659.9 201.8 661.3 200.9C665.3 198.4 668.3 194.6 671.3 190.9C677.5 183.4 682.8 175.1 687.5 166.6C690.1 162 691.9 157 694.2 152.2C696 148.5 697.3 144.5 699.7 141.2C700.9 139.5 702.9 138.5 704.1 136.8C706 134.1 706.9 130.8 708.5 127.9C710.2 124.9 711.4 121.3 714 119.1C715.6 117.8 717.9 118 719.6 116.9C721.7 115.5 722.9 112.8 725.1 111.4C726.9 110.2 729 109.2 731.2 109.2C733.7 109.1 736.1 110.2 738.3 111.4C740.9 112.7 743 114.8 745 116.9C746.7 118.9 748 121.2 749.4 123.5C750.6 125.7 751.3 128.1 752.7 130.2C753.6 131.6 755.1 132.6 756 134C758 137.2 759 141 760.4 144.5C761.9 148.2 763.5 151.8 764.8 155.5C766.4 159.9 767 164.7 769.3 168.8C770.4 170.9 771.7 173 773.7 174.3C773.9 174.5 774.6 174.6 774.6 174.6C774.6 174.6 777.8 182.1 779.5 185.8C781.1 189.2 782.5 192.7 784.5 195.8C786.3 198.5 788.8 200.7 790.8 203.3C792.6 205.7 793.7 208.6 795.7 210.8C797.5 212.7 799.7 214.3 802 215.7C805.1 217.7 808.4 219.5 811.9 220.7C814.3 221.6 816.9 222.1 819.4 222.5C826 223.5 832.7 223.6 839.4 224C847.7 224.5 856 224.6 864.3 225.2C872.6 225.8 880.9 226.8 889.2 227.5C892.3 227.7 898.7 228.2 898.7 228.2C898.7 228.2 901.8 239.2 904.1 244.4C905.5 247.5 907.8 250.1 909.1 253.1C911.3 257.9 912.5 263.1 914.1 268.1C915.8 273.5 917.4 278.9 919.1 284.3C920.5 288.5 921.8 292.8 923.3 297.1C925.3 302.9 927.7 308.6 929.5 314.5C932 322.7 933.6 331.1 935.7 339.4C937.3 345.4 938.5 351.6 940.7 357.4C942.1 360.9 943.8 364.2 945.7 367.4C948.3 371.8 951 376.1 954.4 379.9C957.4 383.2 960.6 386.3 964.4 388.6C968.2 390.9 972.5 392.7 976.9 393.6C980.9 394.4 985.2 394 989.3 393.6C993.5 393.2 997.7 392.2 1001.8 391.1C1005.2 390.1 1008.2 387.8 1011.7 387.3C1015.1 387 1018.6 387.4 1021.7 388.6C1024.5 389.6 1027 391.6 1029.2 393.6C1033.1 397.2 1035.7 402 1039.2 406C1042.4 409.9 1046 413.4 1049.1 417.2C1052.7 421.6 1055.9 426.3 1059.1 431C1062.5 435.9 1065.4 441.2 1069.1 445.9C1072.1 449.9 1075.7 453.4 1079 457.1C1081.5 460 1083.8 463.2 1086.5 465.8C1088.8 468.1 1091 470.8 1094 472.1C1095.9 472.9 1100.2 472.8 1100.2 472.8C1100.2 472.8 1104.7 470.2 1106.4 468.3C1109.6 465.1 1111.5 460.9 1113.9 457.1C1116.5 453 1118.9 448.8 1121.4 444.7C1123.9 440.5 1126.4 436.4 1128.9 432.2C1131.4 428 1133.6 423.8 1136.3 419.7C1138.7 416.3 1140.6 412.4 1143.8 409.8C1146.7 407.5 1150.2 405.8 1153.8 405.3C1157.9 404.7 1162.1 406.4 1166.2 406.8C1170.4 407.1 1174.6 408.2 1178.7 407.3C1182.3 406.5 1185.5 404.3 1188.7 402.3C1192.2 400.1 1195.1 397 1198.6 394.8C1201.8 392.9 1205 390.7 1208.6 389.8C1211.8 389.1 1215.3 389.4 1218.6 389.8C1222 390.3 1225.3 391.6 1228.5 392.8C1232.8 394.4 1237 396.4 1241 398.6C1245.3 400.8 1248.8 404.7 1253.5 406C1257.5 407.1 1261.8 405.2 1265.9 406C1270.3 406.9 1274.6 408.7 1278.4 411C1282.1 413.3 1285.5 416.4 1288.3 419.7C1293.1 425.3 1295.6 432.6 1299.9 438.4C1302.9 442.4 1306.6 445.9 1309.9 449.6C1313.2 453.4 1315.9 457.8 1319.9 460.9C1322.8 463.1 1329.8 465.8 1329.8 465.8C1329.8 465.8 1336.6 463.7 1339.8 462.1C1343.3 460.4 1346.4 457.8 1349.8 455.9C1353 454.1 1356.7 453 1359.7 450.9C1363.4 448.4 1366.2 444.8 1369.7 442.2C1372.9 439.8 1376.1 437.6 1379.7 435.9C1382.8 434.5 1386.2 432.7 1389.6 432.7C1393.1 432.7 1396.4 434.6 1399.6 435.9C1403 437.3 1406.5 438.9 1409.6 440.9C1413.2 443.4 1416.5 446.5 1419.5 449.6C1423.2 453.5 1425.7 458.4 1429.5 462.1C1432.5 465 1436.1 467.2 1439.5 469.6C1442.7 471.8 1445.9 474.1 1449.4 475.8C1452.6 477.4 1456 478.6 1459.4 479.5C1463.5 480.7 1467.8 481 1471.9 482C1476.1 483.1 1480.1 484.8 1484.3 485.8C1487.6 486.6 1490.9 487.3 1494.3 487.5C1497.6 487.7 1501 487.5 1504.3 487C1507.7 486.5 1510.9 485.4 1514.2 484.5C1517.6 483.7 1520.9 482.9 1524.2 482C1527.5 481.2 1530.8 480 1534.2 479.5C1537.5 479.1 1540.8 479 1544.1 479C1547.5 479 1550.9 478.9 1554.1 479.5C1557.6 480.3 1560.8 481.9 1564.1 483.3C1567.5 484.8 1570.6 487 1574 488.3C1577.3 489.5 1580.7 490 1584 490.8C1587.3 491.5 1590.6 492.3 1594 492.5C1597.3 492.7 1600.7 492.5 1603.9 492C1607.3 491.5 1610.8 491 1613.9 489.5C1617.7 487.7 1620.6 484.5 1623.9 482C1627.2 479.5 1630.9 477.5 1633.8 474.6C1636.8 471.6 1638.7 467.8 1641.3 464.6C1643.7 461.6 1646.1 458.6 1648.8 455.9C1651.1 453.6 1653.4 451.1 1656.3 449.6C1658.6 448.5 1661.2 447.6 1663.8 447.7C1667.2 447.7 1670.5 449.6 1673.7 450.9C1677.2 452.3 1680.4 454.1 1683.7 455.9C1687.1 457.8 1689.9 461 1693.7 462.1C1696.8 463 1700.3 462.5 1703.6 462.1C1707 461.7 1710.4 460.8 1713.6 459.6C1717.1 458.3 1720.5 456.7 1723.6 454.6C1727.2 452.2 1730.2 448.8 1733.5 445.9C1736.8 443 1739.7 439.4 1743.5 437.2C1746.5 435.4 1749.9 433.9 1753.5 433.4C1756.8 433.1 1760.1 434.3 1763.4 434.7C1766.8 435.1 1770.1 435.1 1773.4 435.9C1776.8 436.8 1780.2 438.1 1783.4 439.7C1786 440.9 1788.1 443.1 1790.8 444.2C1793.2 445.1 1798.3 445.9 1798.3 445.9C1798.3 445.9 1800.2 444.1 1801.2 443.4C1804.3 441.4 1808 440.3 1811.2 438.4C1813.8 436.9 1816.4 435.4 1818.7 433.4C1821.5 430.9 1823.9 427.8 1826.2 424.7C1828.5 421.6 1830.3 418.1 1832.4 414.8" fill="none" stroke="#f44336" stroke-width="2.2" stroke-linejoin="round" stroke-linecap="round"/>
<g><rect x="350" y="304" width="1598" height="8.8" fill="rgba(156,39,176,0.48)" stroke="#9c27b0" stroke-width="2"/><rect x="223" y="355.4" width="1721" height="9.2" fill="rgba(156,39,176,0.48)" stroke="#9c27b0" stroke-width="2"/><rect x="60" y="407.1" width="1888" height="10.6" fill="rgba(156,39,176,0.48)" stroke="#9c27b0" stroke-width="2"/><rect x="42" y="464.1" width="1912.6" height="7.6" fill="rgba(156,39,176,0.48)" stroke="#9c27b0" stroke-width="2"/></g>
<rect x="495" y="208" width="1491" height="4" fill="#004d40"/>
<rect x="49" y="503" width="1937" height="4" fill="#004d40"/>
<line x1="4" y1="364" x2="1987" y2="364" stroke="#0a9786" stroke-width="2" stroke-dasharray="2 4" shape-rendering="crispEdges"/>
<g fill="none" stroke-width="2" shape-rendering="crispEdges">
<path d="M33 542V559M38 527V543M40 519V526M42 511V514M47 493V497M54 468V477M61 443V447M63 436V453M65 431V445M67 423V428M79 467V478M101 482V494M108 486V497M131 477V489M140 462V478M149 455V466M154 455V470M156 447V460M160 451V460M163 441V456M176 446V462M181 447V463M185 431V435M188 415V426M190 407V425M192 404V410M197 415V420M204 421V431M213 421V437M215 415V421M217 407V420M222 386V397M224 374V384M229 375V381M231 371V387M240 360V372M256 380V392M265 375V387M267 367V382M269 367V379M276 370V375M281 371V382M283 372V380M294 379V389M306 389V404M317 367V375M324 362V374M333 333V341M340 335V350M342 331V340M346 333V341M349 329V341M351 328V338M362 325V335M365 325V341M376 329V335M378 325V333M387 331V348M390 328V345M405 294V311M412 298V311M415 304V317M419 302V312M421 298V314M430 297V307M437 287V297M440 283V289M446 289V298M449 289V304M453 296V307M462 296V312M469 301V314M471 287V297M478 289V297M480 278V299M483 273V288M485 266V269M487 257V262M499 197V203M503 192V210M508 179V183M512 166V195M514 166V170M519 136V143M655 201V217M660 188V203M671 136V142M678 131V137M685 137V165M687 140V152M694 111V118M703 109V126M705 106V114M721 97V115M723 97V109M741 143V157M750 170V182M759 190V200M762 190V200M900 326V343M914 342V362M923 371V381M925 372V387M932 379V397M939 378V395M941 374V382M946 374V378M959 405V415M961 401V420M964 400V412M968 386V405M975 397V409M977 396V410M982 389V399M984 384V394M986 376V386M989 369V380M993 380V395M995 377V387M1000 377V389M1002 376V387M1007 377V390M1009 380V391M1016 392V404M1020 394V411M1023 392V406M1041 431V450M1052 445V460M1057 445V455M1059 450V462M1068 476V480M1070 465V486M1073 463V481M1077 460V466M1086 481V490M1088 486V499M1091 487V503M1093 480V492M1098 463V468M1100 452V466M1102 444V453M1107 415V442M1113 397V412M1179 399V420M1181 400V412M1184 400V407M1186 391V404M1188 391V399M1191 389V396M1195 377V386M1197 374V382M1216 398V407M1222 417V430M1227 416V427M1229 414V423M1234 395V407M1236 390V400M1245 406V420M1252 402V414M1254 401V417M1263 409V425M1265 410V422M1277 423V430M1279 425V438M1281 426V442M1288 463V476M1290 465V477M1293 461V470M1302 468V479M1304 467V476M1306 461V468M1320 465V475M1322 457V472M1327 460V465M1329 461V477M1331 460V470M1334 458V466M1340 442V451M1343 437V450M1345 447V454M1347 438V448M1349 436V445M1365 435V452M1379 417V437M1381 413V427M1388 427V444M1390 432V442M1399 451V462M1402 450V466M1406 455V466M1408 457V467M1413 462V477M1415 463V472M1417 460V472M1420 462V470M1431 483V496M1449 487V492M1452 483V492M1463 480V487M1465 476V486M1467 473V485M1479 490V499M1481 487V504M1483 486V494M1490 475V490M1492 476V488M1499 480V492M1504 485V497M1506 485V496M1508 486V496M1510 483V493M1513 482V492M1515 481V490M1517 480V488M1520 477V487M1522 472V485M1524 467V477M1529 467V478M1533 466V477M1535 470V477M1542 476V485M1560 491V506M1563 492V502M1565 492V506M1569 497V514M1572 496V507M1581 485V492M1590 488V502M1592 492V508M1594 496V503M1604 492V504M1606 492V505M1608 491V499M1610 484V497M1615 465V479M1622 448V463M1624 450V457M1635 452V462M1638 445V457M1640 442V450M1642 435V442M1656 453V468M1658 455V462M1667 460V466M1669 460V468M1678 467V482M1681 465V478M1683 465V473M1685 463V471M1687 460V470M1690 461V468M1692 460V468M1694 461V467M1697 457V463M1699 450V462M1703 451V460M1706 450V459M1708 447V458M1710 446V456M1712 447V456M1715 446V457M1717 440V453M1719 437V447M1722 436V447M1724 434V447M1726 434V445M1731 438V446M1733 435V446M1735 431V441M1740 420V431M1742 414V430M1746 411V421M1753 440V448M1756 439V450M1758 440V452M1760 440V455M1762 443V456M1765 450V462M1767 450V461M1769 445V451M1771 440V448M1778 446V452M1781 445V455M1783 442V451M1787 435V445M1790 430V445M1796 440V446M1799 436V446M1801 434V446M1803 431V445M1805 432V443M1812 426V440M1815 418V435M1817 414V425M1819 402V420M1826 390V405M1828 384V404M1830 376V390M1833 369V381M1835 364V372" stroke="#26a69a"/>
<path d="M29 542V559M70 416V432M83 470V487M86 470V486M88 470V484M92 475V489M95 477V489M99 480V491M104 483V498M111 480V486M113 471V487M115 478V486M122 492V507M126 484V496M129 486V496M135 480V491M145 447V466M147 447V465M158 450V458M165 440V453M170 435V447M172 437V455M174 442V455M206 416V432M210 420V431M226 365V380M238 355V371M242 371V379M244 375V381M247 374V387M249 380V396M251 381V399M260 366V384M263 374V385M274 361V376M285 359V375M288 372V376M299 384V396M301 385V399M303 387V404M315 359V374M319 367V381M335 325V339M337 333V338M344 323V340M358 311V328M360 314V328M369 310V327M371 315V330M381 317V335M383 327V336M385 329V345M399 285V302M410 289V307M417 306V318M424 287V302M428 292V306M433 294V302M435 291V301M442 276V292M444 281V292M451 292V301M455 289V299M458 289V304M460 294V304M464 297V309M467 297V308M474 292V301M476 289V302M501 189V205M526 112V129M676 120V138M696 102V120M698 100V114M700 107V120M712 77V94M714 84V95M716 94V101M719 95V116M725 94V110M744 145V153M764 183V200M766 195V205M771 197V211M902 327V342M905 329V344M907 337V346M909 336V351M911 338V356M916 357V371M918 360V372M921 363V378M927 374V386M930 376V389M934 379V387M936 381V388M943 367V377M952 392V409M955 399V410M957 402V414M966 394V411M970 387V401M973 389V402M980 391V400M991 370V377M998 376V390M1005 374V391M1011 380V392M1014 386V394M1018 394V411M1025 400V407M1027 401V411M1029 410V421M1032 412V428M1034 417V431M1036 426V436M1039 428V445M1043 440V450M1045 441V455M1048 442V457M1050 443V457M1054 441V456M1061 457V470M1064 458V473M1066 465V473M1075 457V467M1079 455V472M1082 461V477M1084 476V487M1116 388V413M1118 383V412M1193 380V386M1200 366V375M1202 365V376M1204 367V376M1206 365V382M1225 420V435M1238 383V397M1247 404V414M1250 402V415M1256 406V421M1259 407V422M1261 410V422M1268 405V415M1270 404V420M1272 407V418M1275 409V422M1284 435V445M1286 441V452M1295 458V469M1297 454V470M1299 462V472M1309 460V467M1311 460V472M1313 465V475M1315 473V481M1318 472V477M1324 460V467M1336 455V465M1338 445V462M1352 430V440M1354 431V440M1356 428V443M1358 432V441M1361 432V440M1363 430V445M1372 422V436M1374 423V435M1377 420V437M1383 415V423M1386 425V431M1393 428V446M1395 440V447M1397 443V455M1404 445V457M1411 455V471M1422 466V476M1424 470V480M1427 478V491M1429 487V492M1440 466V472M1442 465V476M1445 475V482M1454 482V491M1456 481V494M1458 483V499M1461 487V493M1470 480V487M1472 482V493M1474 483V494M1476 487V497M1486 475V488M1488 473V487M1495 476V488M1497 478V487M1501 481V496M1526 461V476M1531 468V476M1538 476V483M1540 475V490M1545 470V485M1547 472V485M1549 483V490M1551 485V496M1554 483V498M1556 485V498M1558 485V499M1567 496V503M1576 481V497M1579 482V493M1583 483V497M1585 481V496M1588 487V497M1597 490V498M1599 488V499M1601 491V502M1613 472V477M1626 441V462M1628 445V458M1631 450V460M1633 448V462M1644 427V438M1647 427V438M1649 440V445M1651 446V460M1653 452V462M1660 438V452M1663 445V451M1672 460V467M1674 458V472M1676 465V477M1701 448V460M1728 435V445M1737 425V436M1744 412V422M1749 416V423M1774 433V442M1776 426V440M1785 436V446M1792 440V446M1794 441V447M1808 430V441M1810 427V442M1821 399V417M1824 396V411" stroke="#ef5350"/>
<path d="M23 567.5h2M26 551.5h2M44 501.5h2M48 485.5h2M51 477.5h2M53 461.5h2M57 453.5h2M71 439.5h2M73 447.5h2M75 456.5h2M116 494.5h2M123 491.5h2M134 477.5h2M137 473.5h2M180 438.5h2M193 413.5h2M198 430.5h2M216 402.5h2M291 381.5h2M307 384.5h2M311 381.5h2M323 359.5h2M325 352.5h2M327 341.5h2M332 341.5h2M336 345.5h2M352 321.5h2M364 326.5h2M368 318.5h2M391 324.5h2M393 316.5h2M393 302.5h2M395 293.5h2M402 298.5h2M420 294.5h2M486 249.5h2M488 235.5h2M491 227.5h2M493 219.5h2M495 210.5h2M504 188.5h2M513 159.5h2M516 150.5h2M520 128.5h2M522 120.5h2M529 127.5h2M529 134.5h2M532 146.5h2M534 152.5h2M536 159.5h2M538 162.5h2M541 167.5h2M543 162.5h2M545 163.5h2M547 165.5h2M550 171.5h2M552 165.5h2M554 165.5h2M557 174.5h2M559 180.5h2M561 174.5h2M563 174.5h2M566 183.5h2M568 188.5h2M570 183.5h2M572 183.5h2M575 184.5h2M577 197.5h2M579 195.5h2M581 196.5h2M584 200.5h2M588 196.5h2M588 196.5h2M591 197.5h2M593 203.5h2M597 200.5h2M597 200.5h2M600 200.5h2M602 206.5h2M604 200.5h2M606 200.5h2M609 202.5h2M611 206.5h2M613 202.5h2M616 202.5h2M618 206.5h2M620 202.5h2M622 202.5h2M625 208.5h2M627 202.5h2M629 202.5h2M631 202.5h2M634 208.5h2M636 202.5h2M638 202.5h2M640 202.5h2M643 208.5h2M645 203.5h2M647 203.5h2M650 203.5h2M661 175.5h2M663 167.5h2M665 158.5h2M668 150.5h2M672 128.5h2M679 145.5h2M688 134.5h2M690 125.5h2M706 99.5h2M709 85.5h2M727 115.5h2M729 124.5h2M733 143.5h2M738 150.5h2M738 156.5h2M745 161.5h2M747 169.5h2M752 187.5h2M754 190.5h2M772 217.5h2M774 219.5h2M779 221.5h2M781 226.5h2M786 221.5h2M790 227.5h2M795 221.5h2M799 227.5h2M804 222.5h2M808 228.5h2M813 222.5h2M817 228.5h2M822 223.5h2M827 229.5h2M831 224.5h2M836 229.5h2M840 224.5h2M847 230.5h2M851 224.5h2M851 231.5h2M856 225.5h2M861 231.5h2M865 226.5h2M867 230.5h2M874 233.5h2M881 233.5h2M886 227.5h2M890 233.5h2M895 227.5h2M908 353.5h2M949 381.5h2M949 388.5h2M990 382.5h2M1038 440.5h2M1103 435.5h2M1106 428.5h2M1110 414.5h2M1117 399.5h2M1119 400.5h2M1121 402.5h2M1124 405.5h2M1124 412.5h2M1128 406.5h2M1131 412.5h2M1135 407.5h2M1140 412.5h2M1142 407.5h2M1151 412.5h2M1158 407.5h2M1158 412.5h2M1165 407.5h2M1167 407.5h2M1174 425.5h2M1176 420.5h2M1208 385.5h2M1210 388.5h2M1212 397.5h2M1217 414.5h2M1219 415.5h2M1230 412.5h2M1237 400.5h2M1239 405.5h2M1242 405.5h2M1264 412.5h2M1364 433.5h2M1369 428.5h2M1432 476.5h2M1435 470.5h2M1446 490.5h2M1573 490.5h2M1609 477.5h2M1618 457.5h2M1657 450.5h2M1664 460.5h2M1748 430.5h2M1750 440.5h2M1775 438.5h2M1784 446.5h2" stroke="#26a69a" stroke-width="1"/>
</g>
<rect x="0" y="846" width="1986" height="56" fill="#f0eefa"/>
<g stroke="#686c7a" stroke-width="2" stroke-dasharray="10 12" shape-rendering="crispEdges">
<line x1="10" y1="845" x2="1980" y2="845"/>
<line x1="10" y1="901" x2="1980" y2="901"/>
</g>
<polyline points="55.3,809.9 66,807.4 67.8,819.9 72.3,828.6 75.3,843.6 77.7,858.5 79.2,861 81.7,869.2 84.2,863.5 87.7,861 89.7,871 92.2,867.2 94.7,869.7 97.7,875.2 99.7,874.2 102.2,876 105.9,876 108.4,871 110.1,866 112.1,872.2 114.1,871.7 115.9,877.2 118.4,883.9 122.1,885.2 124.6,876 127.6,872.7 130.1,867.2 132.1,869.7 134.1,867.7 136.6,859.8 139.5,854.8 143.3,846.8 145.8,850.3 148.3,850.3 150,857.8 152,851 155,854.3 158.2,857.8 160.7,850.3 162,851 164,845.6 165.7,851.5 168.2,850.3 170.7,854.3 173.9,857.3 176.4,862.7 178.2,864.7 181.9,852.3 186.4,837.8 191.9,831.8 194.4,846.1 196.9,858.5 199.9,868 203.8,858 207.3,860.5 209.8,864.7 213.1,858.5 216.8,849.8 221.8,838.6 226,833.6 228,842.8 230.5,841.1 233.7,834.8 236.2,844.8 238,841.8 241.7,856 243.7,854.8 245.5,864.2 247.9,867.2 249.9,864.7 251.7,867.7 253.7,861 256.2,857.8 259.2,864.2 261.6,867.2 264.1,860.3 266.6,858.5 269.9,862.2 272.1,854.8 275.4,857.8 277.8,861.8 280.3,868 282.8,861 284.6,859.3 286.6,864.2 289.1,870.2 291.6,872.7 296,874.2 297.8,885.2 300.3,887.7 302,881.7 304,883.9 306.5,877.7 309,874.2 311.5,869.7 314,857.8 316.5,864.2 319.7,865.2 322,855.3 325.2,849.8 328.4,846.1 331.4,837.3 333.9,836.8 335.9,842.8 338.4,854.8 340.1,859 341.9,847.3 345.1,851 347.6,851 351.4,846.8 353.8,842.3 355.8,852.3 357.6,851 361.8,860.5 365.1,854.8 368.1,849.3 370,858.5 373.8,867.2 376.3,860.3 380,867.2 383.8,875.2 385.7,872.7 388.2,864.2 391.2,857.3 394.5,849.3 398,842.3 400,851.8 401.7,849.3 403.7,855.5 405.7,850.3 407.4,861 409.9,865.2 413.7,869 415.6,861.8 417.4,865.2 421.9,856 424.9,859.3 428.6,863 431.1,864.2 433.6,861 436.6,851.8 438.6,849.8 440.6,853.5 443.6,866.7 447.8,864.2 449.8,871 451.5,866.7 454,865.5 456,872.7 458,876 461,872.7 463.5,875.2 466,878.4 468,882.2 470,859 471.7,869.2 473.5,868.5 475.5,865.2 477.9,855.3 481.4,851.8 485.9,842.3 490.4,832.3 494.6,826.1 499.6,821.9 500,821.1 502,832.8 505,828.6 509.5,822.4 512.5,822.9 516.2,821.1 520.4,816.9 524.2,814.4 526.2,826.9 528.2,826.1 530.4,836.1 533.6,846.1 537.4,858.5 539.9,862.2 542.4,867.2 544.4,863.5 549.8,865.2 551.8,871 553.6,866.7 556.1,866.5 557.8,873.5 559.8,878.4 561.8,874 564,874 567.3,879.7 570.3,885.2 572.3,879.7 576,879.7 578,890.9 579.7,887.7 584.2,887.7 586,892.2 587.7,885.4 591,885.4 594.2,891.7 595.9,888.4 602.2,888.4 604.2,894.1 605.9,885.9 609.6,885.9 611.6,891.7 614.1,882.9 616.6,882.9 619.6,889.2 622.1,880.2 624.6,880.2 625.8,887.2 628.3,878.4 633.3,878.4 635.8,885.2 638.3,876.7 642.5,876.7 644,885.2 645.8,876.5 650,876.5 654,885.9 656.5,872.2 659,864.7 662,847.3 664.5,839.3 666.5,835.3 669.4,831.8 671.9,825.6 673.9,823.6 675.7,836.1 677.4,837.8 679.4,846.1 681.9,854.3 683.9,846.1 688.1,849.8 690.6,844.3 693.9,834.8 696.1,832.8 697.6,844.8 699.9,850.3 703.1,846.8 706.3,843.1 709.8,834.3 711.8,844.3 713.8,846.1 715.5,852.3 718,865.2 721.8,856.8 723.8,854.8 726.3,865.2 728.8,871 731.7,880.9 734.2,885.9 736.7,889.2 739.7,891.7 742.2,882.9 745.5,888.9 747.9,893.4 751.2,899.1 757.9,900.4 759.7,904.1 761.6,894.6 764.1,899.1 767.9,902.1 774.1,905.1 780.3,905.9 782.1,907.6 784.6,901.6 789.6,901.6 791.6,905.9 794,898.9 797.8,898.9 799.8,902.6 802,894.6 808.5,894.6 810.2,900.1 812.2,891.4 816.5,891.4 818.2,896.6 820.2,887.7 825.2,887.7 827.7,894.1 829.4,885.4 833.9,885.4 835.9,892.2 837.7,882.7 843.9,882.7 845.9,890.2 848.1,880.4 850.1,880.4 851.9,887.7 853.8,878.4 860.1,878.4 862.1,885.9 864.3,876 866.3,876 868.3,885.2 870.5,882.7 872.5,874.7 876.3,885.9 878.3,885.2 880.5,876.5 882.5,876.5 884.3,883.9 886.2,875.2 888.2,875.2 890,882.7 893.7,874 898,874 900,920.1 908.7,922.1 914.9,923.8 919.9,925.8 923.6,924.5 930.4,926.3 932.3,917.1 936.1,918.3 938.6,908.3 940.6,906.4 944.8,906.6 948.5,909.6 953.5,916.3 958,917.8 961,910.3 964,902.6 965.5,905.4 968,890.2 971,895.9 973.5,897.6 977.2,889.7 981.4,882.7 985.9,868.5 987.9,874.7 989.7,879.7 992.2,872.7 995.9,874.7 997.9,879.7 999.6,871.7 1000,871 1002,879.2 1003.7,877.7 1005.5,879.7 1007.5,878.4 1010,883.4 1013,887.2 1016.2,892.7 1017.9,883.4 1019.9,882.7 1022.4,887.7 1026.2,892.7 1031.1,895.9 1034.9,901.6 1037.9,905.1 1039.9,904.1 1043.6,907.1 1049.8,910.3 1051.8,896.6 1054.8,903.4 1057.8,905.1 1059.8,904.6 1066,910.8 1068,900.1 1069.8,900.9 1071.8,891.7 1074.8,892.7 1079.2,897.1 1082.2,900.1 1084.7,904.6 1086.7,905.9 1088.5,908.3 1091,894.6 1094.2,882.7 1097.7,876.7 1100.9,864.2 1104.2,854.8 1107.7,844.3 1109.6,843.6 1112.1,839.3 1115.9,836.1 1117.9,847.8 1120.4,844.3 1123.3,849.3 1125.8,856.8 1128.3,853.5 1134.1,853.5 1136.3,861 1138.3,856.8 1140,856.8 1142,863.5 1144.5,858.5 1150,858.5 1152,866 1154,860.5 1156.5,860.5 1158.2,868.5 1160.7,862.2 1164.5,862.2 1169.9,864.2 1171.9,877.2 1173.9,885.9 1176.4,867.2 1179.4,859.3 1183.2,856 1186.4,852.8 1189.4,846.8 1191.4,843.6 1193.9,843.6 1198.1,836.1 1201.3,843.6 1203.8,846.1 1206.3,859.8 1209.8,867.2 1211.8,876 1214.3,884.7 1217.3,889.7 1220.5,896.6 1224.3,898.4 1228,885.9 1231.2,871 1233,865.2 1236,860.5 1238,869.2 1240,875.2 1241.7,876 1244.2,882.2 1247.9,878.4 1249.9,873.5 1253.7,878.4 1256.7,880.9 1259.9,883.4 1261.6,879.2 1263.6,879.7 1266.1,874.7 1269.6,876.5 1272.9,884.7 1276.1,894.1 1277.8,895.9 1280.3,903.4 1282.8,905.9 1286.6,911.6 1290.3,915.1 1294,900.9 1296.5,905.9 1299,907.1 1302,902.6 1304.5,897.6 1306.5,891.7 1308.5,894.1 1310.2,892.7 1312,899.1 1314.5,899.6 1316.5,895.9 1318.5,885.4 1322.2,880.2 1323.9,881.7 1325.9,890.2 1328.4,879.7 1331.9,878.4 1335.2,872.2 1337.7,866.7 1340.1,862.7 1341.9,867.7 1343.9,868.5 1347.6,857.8 1351.9,856.5 1355.8,862.7 1359.6,858.5 1361.3,869.2 1363.3,861 1367.6,854.8 1372.5,853.5 1374.5,862.2 1376.8,857.3 1378.3,846.8 1380,846.1 1381.8,855.3 1383.8,866 1386.2,874.7 1390,870.5 1392.5,882.2 1395.7,890.9 1398.2,883.4 1400,880.9 1401.9,886.7 1407.4,889.7 1409.9,893.9 1413.7,890.9 1418.1,889.7 1420.6,898.4 1423.6,901.6 1428.1,904.6 1430.6,894.6 1432.3,887.2 1434.8,881.7 1438.6,876.5 1441.6,882.7 1446.1,894.1 1449.8,895.9 1451.5,884.7 1454,892.2 1458,889.2 1461,881.7 1464,875.2 1466.5,882.2 1469.7,887.9 1472.7,886.7 1476,889.2 1477.9,891.4 1480.2,879.2 1482.2,874 1485.4,873.5 1487.9,878.4 1490.4,874.7 1492.2,872.7 1493.9,877.7 1495.9,871.7 1497.9,880.9 1499.6,877.7 1500,877.2 1502,880.9 1505.5,872.2 1510,875.2 1512,871 1513.7,872.7 1516.2,870.5 1518.7,864.2 1521.9,852.3 1524.2,862.7 1528.7,864 1530.4,859.8 1532.4,864.7 1534.1,865.2 1536.1,877.2 1537.9,879.2 1540.4,866.7 1542.9,870.5 1546.1,874 1549.1,885.9 1551.1,883.4 1553.6,889.2 1556.1,892.2 1558.6,887.2 1561.8,885.9 1564.3,891.7 1566,896.6 1568.5,884.7 1570.3,880.9 1572.3,872.2 1576,870.2 1578.5,871 1581.7,867.2 1583.5,871.7 1586,882.2 1588,880.9 1591.7,883.4 1593.4,879.7 1595.9,874 1598.4,873.5 1601.7,879.2 1604.2,880.2 1606.4,871 1608.4,862.2 1610.9,857.3 1614.1,851 1615.9,844.3 1619.1,834.8 1622.1,832.3 1624.1,849.3 1625.8,844.1 1629.6,846.8 1632.1,859.3 1634.6,851 1637.1,846.1 1642,838.6 1644,851 1647.5,857.3 1649.5,865.2 1652,874.2 1654,869.7 1655.7,868.5 1657.5,862.7 1660,857.8 1662.5,864.2 1666.5,876 1669.9,876.7 1671.9,880.9 1673.9,887.7 1675.7,882.2 1677.4,884.7 1679.9,880.2 1681.9,876 1683.9,880.2 1685.6,876 1688.1,875.5 1690.6,877.2 1693.9,876 1698.1,866 1702.3,863 1705.6,858.5 1709.3,862.7 1711.8,861 1714.8,856.5 1718,849.8 1720,858.5 1723.5,849.3 1725.5,856 1728,864 1730.5,860.5 1734.2,850.3 1736,849.8 1738,842.8 1740,838.6 1741.7,851 1743.7,848.5 1746.2,858.5 1748.7,864.7 1751.7,874.2 1753.7,877.7 1755.4,876 1757.2,877.2 1759.2,885.9 1761.6,890.9 1764.6,884.2 1767.9,879.2 1769.9,870.2 1771.6,864.7 1773.6,871.7 1776.1,876 1777.8,880.9 1780.3,872.7 1782.8,872.7 1785.3,874.2 1787.8,868 1789.8,871 1791.6,876.7 1793.5,868.5 1796.5,871.7 1799,870.5 1802,867.2 1804,872.2 1806,866 1808.5,865.2 1811,859.8 1813.5,851 1816.5,846.1 1820.2,842.8 1823.9,834.8 1827.7,828.6 1832.7,822.9" fill="none" stroke="#7e57c2" stroke-width="2" stroke-linejoin="round"/>
<rect x="0" y="791" width="2087" height="2" fill="#e0e2e7"/>
<rect x="0" y="940" width="2087" height="2" fill="#e0e2e7"/>
<rect x="1986" y="0" width="2" height="996" fill="#e0e2e7"/>
<g fill="none" stroke="#131722" stroke-width="1.9" stroke-linecap="round">
<circle cx="2041.9" cy="968.0" r="10"/>
<path d="M2052.40 968.00L2056.20 968.00M2049.32 975.42L2052.01 978.11M2041.90 978.50L2041.90 982.30M2034.48 975.42L2031.79 978.11M2031.40 968.00L2027.60 968.00M2034.48 960.58L2031.79 957.89M2041.90 957.50L2041.90 953.70M2049.32 960.58L2052.01 957.89"/>
</g>
</svg>
<div style="position:absolute;left:0;top:0;width:2087px;height:791px;overflow:hidden"><div class="ax" style="top:38.4px">60000</div><div class="ax" style="top:100.8px">48000</div><div class="ax" style="top:165.5px">38000</div><div class="ax" style="top:231.7px">30000</div><div class="ax" style="top:294.2px">24000</div><div class="ax" style="top:373.2px">18000</div><div class="ax" style="top:444.2px">14000</div><div class="ax" style="top:511.1px">11000</div><div class="ax" style="top:579.3px">8600</div><div class="ax" style="top:642.4px">6850</div><div class="ax" style="top:706.7px">5450</div><div class="ax" style="top:769.3px">4350</div></div><div class="ax" style="top:790px;letter-spacing:0.35px">100.00</div><div class="ax" style="top:859.1px;letter-spacing:0.35px">50.00</div><div class="tag" style="top:193px;background:#004d40">34000</div><div class="tag" style="top:347px;background:#26a69a">19570</div><div class="tag" style="top:488px;background:#004d40">11800</div><div class="tl" style="left:-75.7px">13</div><div class="tl b" style="left:91.8px">1398</div><div class="tl fa" style="left:266px">اردیبهشت</div><div class="tl fa" style="left:439px">شهریور</div><div class="tl b" style="left:607.8px">1399</div><div class="tl fa" style="left:784px">خرداد</div><div class="tl b" style="left:1079.3px">1400</div><div class="tl fa" style="left:1253px">اردیبهشت</div><div class="tl fa" style="left:1424px">شهریور</div><div class="tl b" style="left:1608px">1401</div><div class="tl fa" style="left:1785px">اردیبهشت</div>
<div class="wm" style="top:112.6px;font-size:26.27px;height:32px;line-height:32px;right:383px;text-rendering:geometricPrecision" dir="rtl">انجمن خبرگان سرمایه گذاری ایران</div>
<div class="wm" style="top:142.6px;font-size:26.2px;height:30px;line-height:30px;letter-spacing:1.03px;right:380.47px">Amoozesh-boors.com</div>
</body></html>
